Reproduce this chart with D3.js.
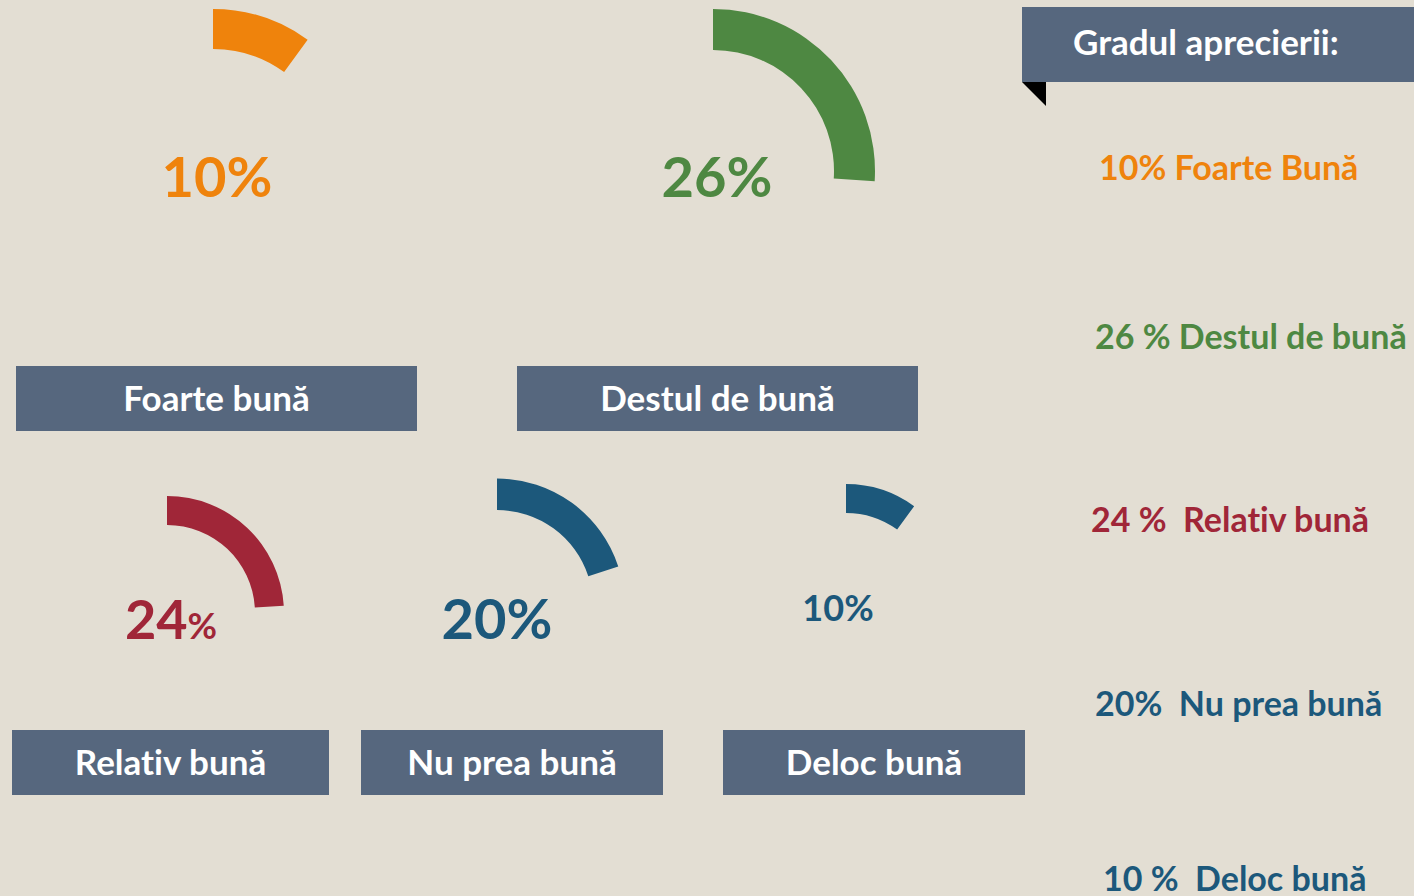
<!DOCTYPE html>
<html>
<head>
<meta charset="utf-8">
<script src="https://cdn.jsdelivr.net/npm/d3@7"></script>
<style>
  body { margin: 0; background: #e3ded3; }
  svg { display: block; font-family: Lato, "Open Sans", sans-serif; font-weight: bold; font-variant-ligatures: none; }
  text { white-space: pre; }
</style>
</head>
<body>
<svg></svg>
<script>
const categories = ['Foarte bună', 'Destul de bună', 'Relativ bună', 'Nu prea bună', 'Deloc bună'];
const percents = [10, 26, 24, 20, 10];
const legendTitle = 'Gradul aprecierii:';
const legendLabels = ['10% Foarte Bună', '26 % Destul de bună', '24 %  Relativ bună', '20%  Nu prea bună', '10 %  Deloc bună'];
const colors = ['#ef830c', '#4e8842', '#a02638', '#1c587b', '#1c587b'];

const w = 1414;
const h = 896;
const boxFill = '#56677e';

// layout of each gauge: arc centre, radii, label and box placement
const layout = [
  { cx: 213, cy: 170, R: 161, r: 121, tx: 217, ty: 197, fs: 56, pct: 56, box: [16, 366, 401, 65] },
  { cx: 713, cy: 171, R: 162, r: 121, tx: 717, ty: 197, fs: 56, pct: 56, box: [517, 366, 401, 65] },
  { cx: 167, cy: 613, R: 117, r: 88, tx: 171, ty: 639, fs: 54, pct: 36, box: [12, 730, 317, 65] },
  { cx: 497, cy: 606, R: 127.5, r: 96, tx: 497, ty: 639, fs: 56, pct: 56, box: [361, 730, 302, 65] },
  { cx: 846, cy: 600, R: 116, r: 87, tx: 838, ty: 621, fs: 36, pct: 36, box: [723, 730, 302, 65] }
];
const legendY = [180, 349, 532, 716, 891];
const legendX = [1099, 1095, 1091, 1095, 1103];

const svg = d3.select('svg').attr('width', w).attr('height', h);

svg.append('rect').attr('width', w).attr('height', h).attr('fill', '#e3ded3');

const angle = d3.scaleLinear().domain([0, 100]).range([0, 2 * Math.PI]);

const gauges = svg
  .selectAll('g.gauge')
  .data(percents)
  .enter()
  .append('g')
  .attr('class', 'gauge');

gauges
  .append('path')
  .attr('transform', (d, i) => `translate(${layout[i].cx},${layout[i].cy})`)
  .attr('fill', (d, i) => colors[i])
  .attr('d', (d, i) =>
    d3.arc()({
      innerRadius: layout[i].r,
      outerRadius: layout[i].R,
      startAngle: 0,
      endAngle: angle(d)
    })
  );

const valueText = gauges
  .append('text')
  .attr('x', (d, i) => layout[i].tx)
  .attr('y', (d, i) => layout[i].ty)
  .attr('text-anchor', 'middle')
  .attr('fill', (d, i) => colors[i])
  .style('font-size', (d, i) => layout[i].fs + 'px');
valueText.append('tspan').text(d => d);
valueText
  .append('tspan')
  .text('%')
  .style('font-size', (d, i) => layout[i].pct + 'px');

gauges
  .append('rect')
  .attr('x', (d, i) => layout[i].box[0])
  .attr('y', (d, i) => layout[i].box[1])
  .attr('width', (d, i) => layout[i].box[2])
  .attr('height', (d, i) => layout[i].box[3])
  .attr('fill', boxFill);

gauges
  .append('text')
  .attr('x', (d, i) => layout[i].box[0] + layout[i].box[2] / 2)
  .attr('y', (d, i) => layout[i].box[1] + 45)
  .attr('text-anchor', 'middle')
  .attr('fill', '#fff')
  .style('font-size', '35px')
  .text((d, i) => categories[i]);

// legend header with folded corner
svg
  .append('rect')
  .attr('x', 1022)
  .attr('y', 7)
  .attr('width', w - 1022)
  .attr('height', 75)
  .attr('fill', boxFill);
svg
  .append('path')
  .attr('d', 'M1022,82L1046,82L1046,106Z')
  .attr('fill', '#000');
svg
  .append('text')
  .attr('x', 1073)
  .attr('y', 55)
  .attr('fill', '#fff')
  .style('font-size', '35px')
  .text(legendTitle);

svg
  .selectAll('text.legend')
  .data(legendLabels)
  .enter()
  .append('text')
  .attr('class', 'legend')
  .attr('x', (d, i) => legendX[i])
  .attr('y', (d, i) => legendY[i])
  .attr('fill', (d, i) => colors[i])
  .style('font-size', '34px')
  .text(d => d);
</script>
</body>
</html>
